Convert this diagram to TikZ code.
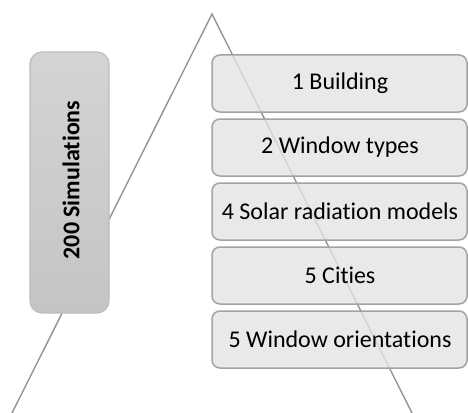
\documentclass[tikz,border=0pt]{standalone}
\usepackage{fontspec}
\setmainfont{Carlito}[Ligatures={NoCommon}]
\begin{document}
\begin{tikzpicture}[x=1pt,y=-1pt,
  guide/.style={draw=black!42,line width=1.4pt},
  total/.style={draw=black!26,line width=1.2pt,rounded corners=12pt,
    top color=black!17,bottom color=black!23},
  factor/.style={draw=black!36,line width=1.5pt,rounded corners=8pt,
    fill=black!11,fill opacity=0.8},
  factorlabel/.style={font=\fontsize{24}{28}\selectfont,text=black}]
\useasboundingbox (0,0) rectangle (468,412);
% the pyramid outline behind everything
\coordinate (apex) at (212,14);
\coordinate (footL) at (5.5,426);
\coordinate (footR) at (418.5,426);
\begin{scope}
\clip (0,0) rectangle (468,412);
\draw[guide] (footL) -- (apex) -- (footR);
\end{scope}
% total number of runs
\draw[total] (30,52) rectangle (109,313);
\node[rotate=90,font=\bfseries\fontsize{24}{28}\selectfont] (sims) at (71,180) {200 Simulations};
% factor boxes
\foreach \t/\lab [count=\i] in {55/1 Building,119/2 Window types,183/4 Solar radiation models,247/5 Cities,311/5 Window orientations}{
  \draw[factor] (212,\t) rectangle (467,\t+57);
  \node[factorlabel] (f\i) at (340,\t+28.5) {\lab};
}
\end{tikzpicture}
\end{document}
